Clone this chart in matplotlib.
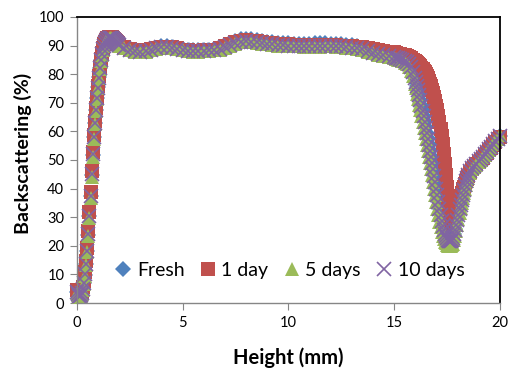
import numpy as np
import matplotlib
matplotlib.use('Agg')
import matplotlib.pyplot as plt

plt.rcParams['font.family'] = ['Lato', 'DejaVu Sans']

# Heights (mm): fine steps where the curves are steep, coarse on the plateau
height = np.round(np.concatenate([
    np.arange(0, 2.001, 0.05),
    np.arange(2.25, 14.751, 0.25),
    np.arange(15.0, 15.901, 0.1),
    np.arange(16.0, 18.501, 0.05),
    np.arange(18.6, 20.001, 0.1),
]), 2)

fresh = [
    3.8, 3.0, 2.5, 2.3, 2.6, 3.4, 4.9, 6.9, 9.8, 13.6, 18.2, 23.8, 30.3, 37.3, 44.8, 51.9, 58.0, 63.1, 67.6, 71.7,
    75.5, 79.0, 82.2, 85.0, 87.2, 88.9, 90.2, 91.2, 91.9, 92.4, 92.7, 92.8, 92.8, 92.7, 92.5, 92.2, 91.9, 91.5, 91.1, 90.7, 90.3,
    89.4, 88.8, 88.3, 88.1, 88.3, 88.8, 89.3, 89.7, 89.8, 89.6, 89.2, 88.8, 88.5, 88.4, 88.4, 88.5, 88.6, 88.8, 89.2, 89.9,
    90.8, 91.6, 92.2, 92.4, 92.2, 91.9, 91.6, 91.4, 91.2, 91.0, 90.9, 90.8, 90.7, 90.7, 90.6, 90.7, 90.8, 90.8, 90.8, 90.7,
    90.6, 90.5, 90.3, 90.1, 89.8, 89.3, 88.8, 88.3, 88.0, 87.8, 87.6,
    87.4, 87.0, 86.6, 86.1, 85.6, 85.0, 84.3, 83.4, 82.2, 80.6,
    78.6, 77.3, 76.0, 74.5, 72.9, 71.1, 69.3, 67.4, 65.5, 63.6, 61.6, 59.6, 57.6, 55.6, 53.5, 51.4, 49.3,
    47.1, 44.8, 42.6, 40.3, 37.9, 35.6, 33.3, 31.1, 29.1, 27.3, 25.8, 24.6, 23.6, 22.9, 22.4, 22.1, 22.0,
    22.1, 22.5, 23.1, 24.3, 25.8, 27.5, 29.3, 31.2, 33.0, 34.7, 36.3, 38.0, 39.7, 41.2, 42.6, 43.8, 44.8,
    46.2, 47.2, 48.0, 48.7, 49.5, 50.3, 51.1, 52.0, 52.9, 53.8, 54.7, 55.6, 56.5, 57.4, 58.3,
]
day1 = [
    4.5, 3.6, 3.0, 2.8, 3.1, 4.0, 5.6, 7.8, 10.8, 14.7, 19.4, 25.2, 31.7, 38.7, 46.0, 52.8, 58.7, 63.7, 68.1, 72.1,
    75.9, 79.4, 82.6, 85.3, 87.5, 89.1, 90.4, 91.4, 92.1, 92.6, 92.9, 93.0, 93.0, 92.9, 92.7, 92.4, 92.1, 91.7, 91.3, 90.8, 90.3,
    89.5, 88.9, 88.4, 88.2, 88.4, 88.8, 89.2, 89.5, 89.6, 89.4, 89.0, 88.6, 88.3, 88.2, 88.2, 88.3, 88.4, 88.6, 89.0, 89.7,
    90.5, 91.2, 91.7, 91.9, 91.7, 91.5, 91.1, 90.9, 90.8, 90.7, 90.5, 90.4, 90.3, 90.3, 90.2, 90.2, 90.3, 90.3, 90.3, 90.2,
    90.1, 90.0, 89.9, 89.8, 89.6, 89.5, 89.1, 88.7, 88.3, 88.0, 87.8,
    87.6, 87.4, 87.2, 87.0, 86.8, 86.6, 86.3, 86.0, 85.6, 85.1,
    84.5, 84.2, 83.9, 83.5, 83.1, 82.7, 82.2, 81.7, 81.2, 80.6, 80.0, 79.3, 78.5, 77.6, 76.7, 75.7, 74.5,
    73.3, 72.0, 70.6, 69.0, 67.3, 65.5, 63.4, 61.0, 58.4, 55.5, 52.2, 48.5, 44.6, 40.5, 36.2, 32.0, 29.2,
    27.5, 27.6, 28.5, 29.7, 31.0, 32.4, 33.8, 35.1, 36.3, 37.5, 38.6, 39.7, 40.7, 41.7, 42.6, 43.5, 44.3,
    45.7, 46.8, 47.7, 48.5, 49.2, 50.0, 50.8, 51.6, 52.5, 53.4, 54.3, 55.2, 56.2, 57.2, 58.2,
]
day5 = [
    3.5, 2.8, 2.2, 2.0, 2.3, 3.1, 4.6, 6.6, 9.5, 13.2, 17.8, 23.4, 29.8, 36.8, 44.2, 51.2, 57.4, 62.6, 67.1, 71.2,
    75.0, 78.5, 81.7, 84.5, 86.8, 88.5, 89.8, 90.8, 91.5, 92.0, 92.3, 92.5, 92.5, 92.4, 92.2, 91.9, 91.6, 91.2, 90.8, 90.4, 90.0,
    89.1, 88.4, 87.9, 87.7, 87.9, 88.4, 88.9, 89.2, 89.3, 89.1, 88.7, 88.3, 88.0, 87.9, 87.9, 88.0, 88.1, 88.3, 88.6, 89.2,
    90.0, 90.7, 91.2, 91.4, 91.2, 90.9, 90.6, 90.4, 90.2, 90.0, 89.9, 89.8, 89.7, 89.7, 89.6, 89.6, 89.6, 89.6, 89.7, 89.7,
    89.6, 89.5, 89.3, 89.1, 88.9, 88.5, 87.9, 87.3, 86.8, 86.4, 86.1,
    85.7, 85.4, 85.1, 84.8, 84.5, 84.0, 83.4, 82.5, 81.2, 79.2,
    76.6, 75.0, 73.2, 71.3, 69.3, 67.3, 65.3, 63.3, 61.3, 59.3, 57.2, 55.2, 53.1, 51.1, 49.0, 46.8, 44.6,
    42.3, 40.0, 37.6, 35.2, 32.9, 30.6, 28.5, 26.6, 24.9, 23.5, 22.4, 21.5, 20.9, 20.4, 20.1, 20.0, 19.9,
    20.0, 20.3, 20.8, 21.9, 23.4, 25.3, 27.4, 29.4, 31.4, 33.3, 35.0, 36.7, 38.4, 39.9, 41.4, 42.7, 43.8,
    45.5, 46.7, 47.6, 48.4, 49.2, 50.0, 50.9, 51.8, 52.7, 53.6, 54.5, 55.5, 56.5, 57.5, 58.6,
]
day10 = [
    4.0, 3.2, 2.6, 2.4, 2.7, 3.5, 5.0, 7.0, 10.0, 13.8, 18.3, 24.0, 30.5, 37.5, 45.0, 52.0, 58.0, 63.0, 67.5, 71.5,
    75.3, 78.8, 82.0, 84.8, 87.0, 88.7, 90.0, 91.0, 91.7, 92.2, 92.5, 92.6, 92.6, 92.5, 92.3, 92.0, 91.7, 91.3, 90.9, 90.5, 90.1,
    89.3, 88.6, 88.1, 87.9, 88.1, 88.6, 89.1, 89.4, 89.5, 89.3, 88.9, 88.5, 88.2, 88.1, 88.1, 88.2, 88.3, 88.5, 88.8, 89.4,
    90.2, 90.9, 91.4, 91.6, 91.4, 91.1, 90.8, 90.6, 90.4, 90.2, 90.1, 90.0, 89.9, 89.9, 89.8, 89.8, 89.8, 89.8, 89.9, 89.9,
    89.8, 89.7, 89.5, 89.3, 89.1, 88.7, 88.1, 87.5, 87.0, 86.6, 86.3,
    86.0, 85.8, 85.5, 85.3, 85.0, 84.6, 84.2, 83.5, 82.4, 80.8,
    78.7, 77.4, 76.0, 74.5, 72.8, 71.0, 69.0, 67.1, 65.2, 63.3, 61.3, 59.3, 57.3, 55.3, 53.2, 51.1, 49.0,
    46.8, 44.5, 42.3, 40.0, 37.6, 35.3, 33.0, 30.8, 28.8, 27.0, 25.5, 24.3, 23.3, 22.6, 22.1, 21.8, 21.7,
    21.8, 22.2, 22.8, 24.0, 25.5, 27.2, 29.0, 30.9, 32.7, 34.4, 36.0, 37.8, 39.5, 41.1, 42.5, 43.8, 44.8,
    46.2, 47.2, 48.0, 48.7, 49.5, 50.3, 51.1, 52.0, 52.9, 53.8, 54.7, 55.6, 56.5, 57.4, 58.3,
]

series = [
    ('Fresh', fresh, 'D', '#4F81BD', 8),
    ('1 day', day1, 's', '#C0504D', 10),
    ('5 days', day5, '^', '#9BBB59', 10.5),
    ('10 days', day10, 'x', '#8064A2', 10),
]

fig = plt.figure(figsize=(5.12, 3.76), dpi=100)
ax = fig.add_axes([0.150, 0.194, 0.826, 0.761])

for label, vals, mk, col, ms in series:
    ew = 1.2 if mk == 'x' else 0
    ax.plot(height, vals, linestyle='none', marker=mk, color=col, markersize=ms,
            markeredgewidth=ew, label=label, clip_on=False)

ax.set_xlim(0, 20)
ax.set_ylim(0, 100)
ax.set_xticks([0, 5, 10, 15, 20])
ax.set_yticks(range(0, 101, 10))

for s in ['left', 'bottom']:
    ax.spines[s].set_color('#868686')
    ax.spines[s].set_linewidth(1.0)
for s in ['top', 'right']:
    ax.spines[s].set_color('black')
    ax.spines[s].set_linewidth(1.3)
ax.tick_params(direction='out', length=5, color='#868686', labelsize=10.5, pad=4)

fig.text(0.045, 0.592, 'Backscattering (%)', rotation=90, ha='center', va='center',
         fontsize=14, fontweight='bold')
fig.text(0.5625, 0.048, 'Height (mm)', ha='center', va='center', fontsize=14.5, fontweight='bold')

ax.legend(loc='center', bbox_to_anchor=(0.504, 0.115), ncol=4, frameon=False,
          handlelength=0.8, handletextpad=0.3, columnspacing=0.8, fontsize=14,
          borderaxespad=0)

fig.savefig('out.png', dpi=100)
